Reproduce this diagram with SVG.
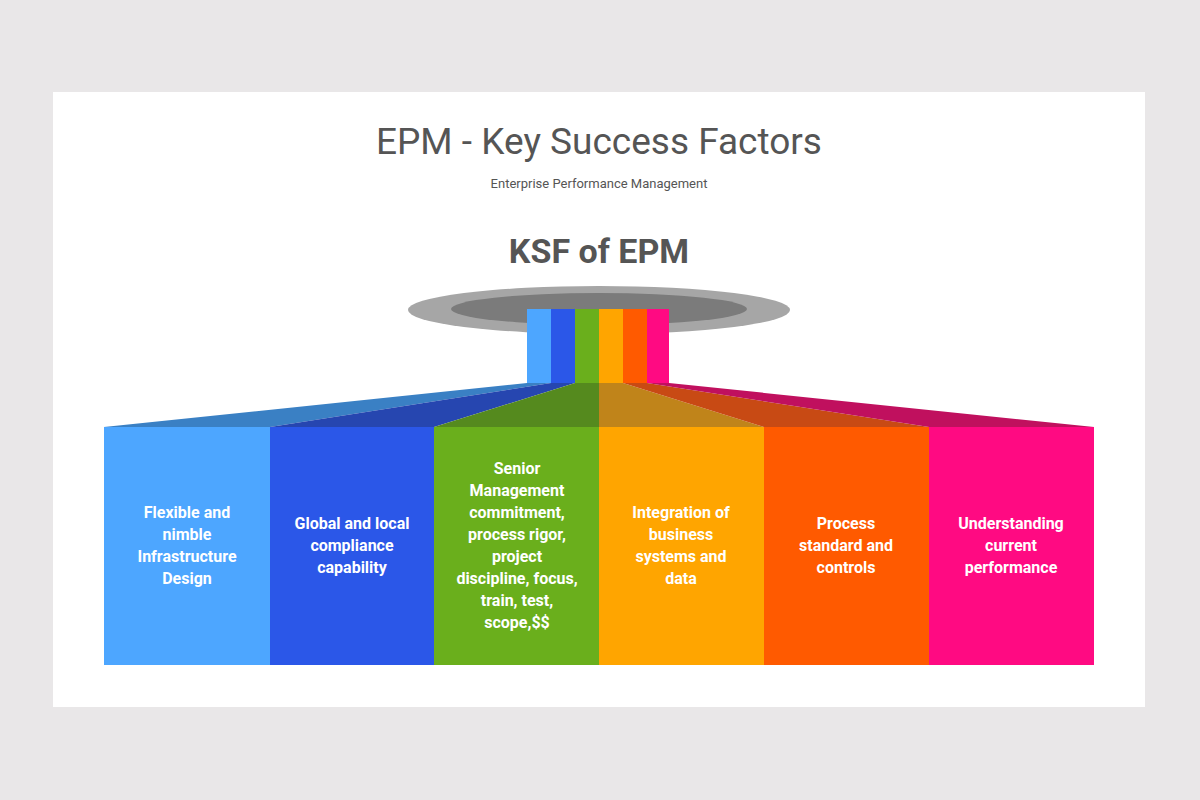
<svg xmlns="http://www.w3.org/2000/svg" width="1200" height="800" viewBox="0 0 1200 800">
<style>
.t{font-family:Roboto,"Liberation Sans",sans-serif;text-anchor:middle}
.lab{font-family:Roboto,"Liberation Sans",sans-serif;font-weight:bold;font-size:16px;fill:#fff;text-anchor:middle}
</style>
<rect width="1200" height="800" fill="#e9e7e8"/>
<rect x="53" y="92" width="1092" height="615" fill="#fff"/>
<text class="t" x="599" y="154" font-size="37" fill="#555">EPM - Key Success Factors</text>
<text class="t" x="599" y="188" font-size="13" fill="#555">Enterprise  Performance  Management</text>
<text class="t" x="599" y="263" font-size="34" font-weight="bold" fill="#555">KSF of EPM</text>
<g id="dish">
<ellipse cx="599" cy="310" rx="191" ry="24" fill="#a6a6a6"/>
<ellipse cx="599" cy="309" rx="148" ry="16" fill="#7b7b7b"/>
</g>
<g id="stems">
<rect x="527" y="309" width="24" height="74" fill="#4da6ff"/>
<rect x="551" y="309" width="24" height="74" fill="#2b57e8"/>
<rect x="575" y="309" width="24" height="74" fill="#6aaf1c"/>
<rect x="599" y="309" width="24" height="74" fill="#ffa500"/>
<rect x="623" y="309" width="24" height="74" fill="#ff5a00"/>
<rect x="647" y="309" width="22" height="74" fill="#ff0a82"/>
</g>
<g id="connectors">
<polygon points="527,383 551,383 270,427 104,427" fill="#3a80c4"/>
<polygon points="551,383 575,383 434,427 270,427" fill="#2646b0"/>
<polygon points="575,383 599,383 599,427 434,427" fill="#558a1e"/>
<polygon points="599,383 623,383 764,427 599,427" fill="#c0841a"/>
<polygon points="623,383 647,383 929,427 764,427" fill="#c84a14"/>
<polygon points="647,383 669,383 1094,427 929,427" fill="#c0105e"/>
</g>
<g id="n1"><rect x="104" y="427" width="166" height="238" fill="#4da6ff"/>
<text class="lab" x="187"><tspan x="187" y="518">Flexible and</tspan><tspan x="187" y="540">nimble</tspan><tspan x="187" y="562">Infrastructure</tspan><tspan x="187" y="584">Design</tspan></text></g>
<g id="n2"><rect x="270" y="427" width="164" height="238" fill="#2b57e8"/>
<text class="lab"><tspan x="352" y="529">Global and local</tspan><tspan x="352" y="551">compliance</tspan><tspan x="352" y="573">capability</tspan></text></g>
<g id="n3"><rect x="434" y="427" width="165" height="238" fill="#6aaf1c"/>
<text class="lab"><tspan x="517" y="474">Senior</tspan><tspan x="517" y="496">Management</tspan><tspan x="517" y="518">commitment,</tspan><tspan x="517" y="540">process rigor,</tspan><tspan x="517" y="562">project</tspan><tspan x="517" y="584">discipline, focus,</tspan><tspan x="517" y="606">train, test,</tspan><tspan x="517" y="628">scope,$$</tspan></text></g>
<g id="n4"><rect x="599" y="427" width="165" height="238" fill="#ffa500"/>
<text class="lab"><tspan x="681" y="518">Integration of</tspan><tspan x="681" y="540">business</tspan><tspan x="681" y="562">systems and</tspan><tspan x="681" y="584">data</tspan></text></g>
<g id="n5"><rect x="764" y="427" width="165" height="238" fill="#ff5a00"/>
<text class="lab"><tspan x="846" y="529">Process</tspan><tspan x="846" y="551">standard and</tspan><tspan x="846" y="573">controls</tspan></text></g>
<g id="n6"><rect x="929" y="427" width="165" height="238" fill="#ff0a82"/>
<text class="lab"><tspan x="1011" y="529">Understanding</tspan><tspan x="1011" y="551">current</tspan><tspan x="1011" y="573">performance</tspan></text></g>
</svg>
